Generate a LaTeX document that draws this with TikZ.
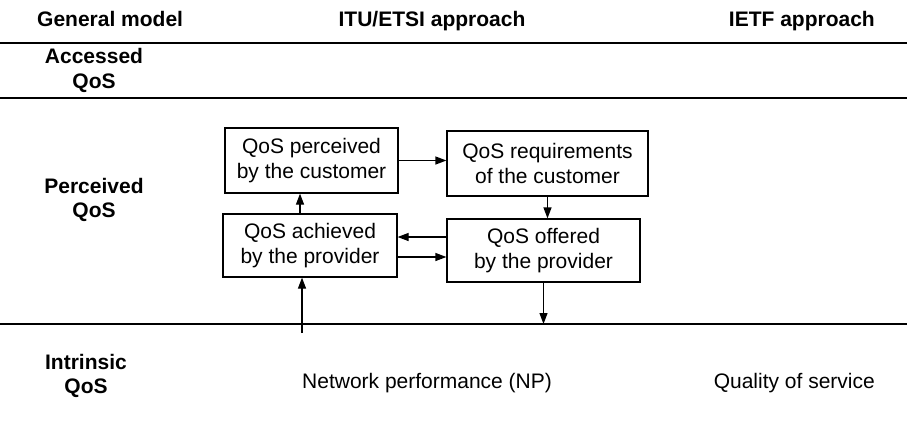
\documentclass[tikz,border=0pt]{standalone}
\usepackage{fontspec}
\setmainfont{Liberation Sans}
\usetikzlibrary{arrows.meta,positioning}

\begin{document}
\begin{tikzpicture}[x=1pt,y=-1pt,
                    every node/.style={font=\fontsize{21}{24.5}\selectfont,inner sep=0pt},
                    qbox/.style={draw,line width=1.2pt,align=center},
                    head/.style={font=\fontsize{21}{24.5}\selectfont\bfseries,align=center},
                    flow/.style={->,line width=1.2pt},
                    rule/.style={line width=1.8pt},
                    >={Triangle[length=11pt,width=8pt]}]

\useasboundingbox (0,0) rectangle (907,429);

% separators
\coordinate (r1w) at (0,43);  \coordinate (r1e) at (907,43);
\coordinate (r2w) at (0,98);  \coordinate (r2e) at (907,98);
\coordinate (r3w) at (0,324); \coordinate (r3e) at (907,324);
\draw[rule] (r1w) -- (r1e);
\draw[rule] (r2w) -- (r2e);
\draw[rule] (r3w) -- (r3e);

% column titles
\node[head,anchor=base west] (general) at (37,26) {General model};
\node[head,anchor=base] (itu) at (432,26) {ITU/ETSI approach};
\node[head,anchor=base east] (ietf) at (875,26) {IETF approach};

% row titles
\node[head] (accessed) at (94,70.5) {Accessed\\QoS};
\node[head] (perceived) at (94,200) {Perceived\\QoS};
\node[head] (intrinsic) at (86,375.7) {Intrinsic\\QoS};

% boxes
\node[qbox,minimum width=173pt,minimum height=65pt] (percv) at (311.5,160.5) {QoS perceived\\by the customer};
\node[qbox,minimum width=201pt,minimum height=65pt] (requ) at (547.5,163.5) {QoS requirements\\of the customer};
\node[qbox,minimum width=174pt,minimum height=63pt] (achv) at (310,245.5) {QoS achieved\\by the provider};
\node[qbox,minimum width=193pt,minimum height=63pt] (offr) at (543.5,250.5) {QoS offered\\by the provider};

\node[anchor=base west] (np) at (302,388) {Network performance (NP)};
\node[anchor=base east] (qos) at (875,388) {Quality of service};

\coordinate (npin) at (302,333);

\draw[flow] (percv.east) -- (percv.east -| requ.west);
\draw[flow] (requ.south) -- (requ.south |- offr.north);
\draw[flow] ([xshift=-10pt]achv.north) -- ([xshift=-10pt]achv.north |- percv.south);
\draw[flow] ([yshift=13.5pt]offr.west) -- ([yshift=13.5pt]offr.west -| achv.east);
\draw[flow] ([yshift=-11.5pt]achv.east) -- ([yshift=-11.5pt]achv.east -| offr.west);
\draw[flow] (npin) -- (npin |- achv.south);
\draw[flow] (offr.south) -- (offr.south |- r3w);

\end{tikzpicture}
\end{document}
